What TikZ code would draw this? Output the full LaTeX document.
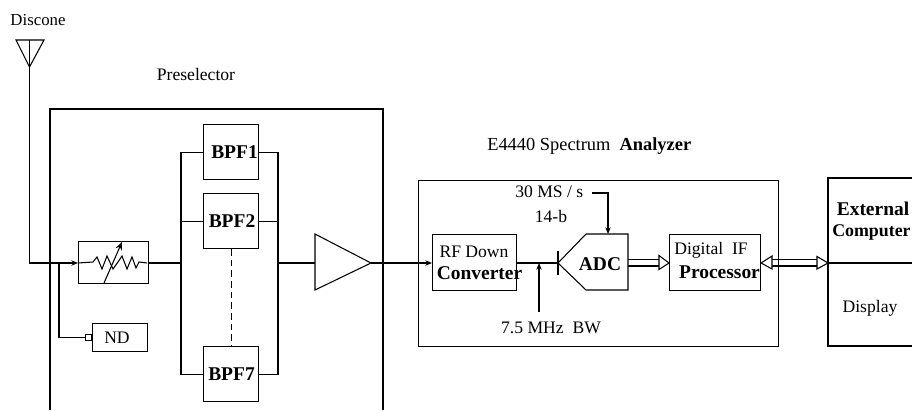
\documentclass[tikz,border=0pt]{standalone}
\usepackage{fontspec}
\setmainfont{Liberation Serif}
\usetikzlibrary{arrows.meta,calc}
\tikzset{
  px/.style={x=0.75pt,y=-0.75pt},
  line/.style={draw=black,line width=0.8pt},
  box/.style={draw=black,line width=0.8pt,inner sep=0pt,rectangle,anchor=north west},
  lab/.style={font=\fontsize{13.2pt}{15pt}\selectfont,inner sep=0pt,align=center},
  blab/.style={font=\fontsize{14.6pt}{16pt}\selectfont\bfseries,inner sep=0pt,align=center},
  arrowed/.style={line,-{Stealth[length=5pt,width=4pt]}},
  hollow/.style={draw=black,line width=0.8pt,fill=white,line join=miter}
}
\begin{document}
\begin{tikzpicture}[px]
\useasboundingbox (0,0) rectangle (912,410);
\begin{scope}
\clip (0,0) rectangle (912,410);
% outer boxes
\draw[line] (50,410) -- (50,109) -- (383,109) -- (383,410);
\node[box,minimum width=270pt,minimum height=124.5pt] (analyzer) at (418,180) {};
\draw[line] (912,178) -- (828,178) coordinate (extA) -- (828,346) -- (912,346);
\coordinate (extM) at (828,263);
\draw[line] (extM) -- (912,263);
% antenna
\coordinate (antL) at (16,40);
\coordinate (antR) at (44,40);
\coordinate (antB) at (29.5,67);
\coordinate (antT) at (29.5,40);
\draw[line,line join=miter] (antL) -- (antR) -- (antB) -- cycle;
\draw[line] (antT) -- (antB);
% attenuator
\node[box,minimum width=52.5pt,minimum height=31.5pt] (att) at (78,241) {};
\coordinate (resL) at (78,263);
\coordinate (resR) at (147,263);
\draw[line] (resL) -- (93,262) -- (97,257) -- (102,269) -- (107,256) -- (113,269) -- (118,262) -- (122,256) -- (127,269) -- (132,257) -- (136,268) -- (139,262) -- (resR);
\draw[line,-{Stealth[length=6pt,width=5pt]}] (104,283) -- (122,242);
% ND
\node[box,minimum width=41.25pt,minimum height=21pt] (nd) at (92,323) {};
\node[lab] at (117,338) {ND};
\node[box,fill=white,minimum width=4.5pt,minimum height=4.5pt,anchor=east] (ndport) at (nd.west) {};
\coordinate (tap) at (59,263);
\draw[arrowed] (antB) -- (antB |- resL) -- (resL);
\draw[line] (tap) |- (ndport.west);
% BPF
\node[box,minimum width=41.25pt,minimum height=41.25pt] (bpfa) at (203,124) {};
\node[box,minimum width=41.25pt,minimum height=41.25pt] (bpfb) at (203,193) {};
\node[box,minimum width=41.25pt,minimum height=41.25pt] (bpfc) at (203,346) {};
\node[blab] at (234.5,152) {BPF1};
\node[blab] at (232,221) {BPF2};
\node[blab] at (231.5,374) {BPF7};
\coordinate (busL) at (181,263);
\coordinate (busR) at (278,263);
\draw[line] (bpfa.west) -| (busL) ;
\draw[line] (bpfc.west) -| (busL);
\draw[line] (bpfb.west) -- (bpfb.west -| busL);
\draw[line] (bpfa.east) -| (busR);
\draw[line] (bpfc.east) -| (busR);
\draw[line] (bpfb.east) -- (bpfb.east -| busR);
\draw[line,dashed,dash pattern=on 5pt off 3pt] (bpfb.south) -- (bpfc.north);
\draw[line] (att.east |- resR) -- (busL);
% amp
\coordinate (ampA) at (315,234);
\coordinate (ampB) at (315,290);
\coordinate (ampC) at (371,263);
\draw[line,line join=miter] (ampA) -- (ampB) -- (ampC) -- cycle;
\draw[line] (busR) -- (ampA |- busR);
% RF
\node[box,minimum width=63pt,minimum height=42pt] (rf) at (432,234) {};
\node[lab] at (474,252) {RF Down};
\node[blab] at (479.5,273) {Converter};
\draw[arrowed] (ampC) -- (rf.west |- ampC);
% ADC
\coordinate (adcIn) at (558,263);
\coordinate (adcTL) at (586,234);
\coordinate (adcTR) at (628,234);
\coordinate (adcBR) at (628,290);
\coordinate (adcBL) at (586,290);
\draw[line,line join=miter] (adcIn) -- (adcTL) -- (adcTR) -- (adcBR) -- (adcBL) -- cycle;
\draw[line] (558,251) -- (558,275);
\node[blab] at (600,264) {ADC};
\draw[line] (rf.east |- adcIn) -- (adcIn);
% annotations
\node[lab,anchor=west] (ms) at (515,192) {30 MS / s};
\node[lab] (bits) at (551,216) {14-b};
\node[lab] (bw) at (551,328) {7.5 MHz\ \ BW};
\draw[arrowed] (592,193) -- (608,193) -- (608,234);
\draw[arrowed] (539,312) -- (539,263);
% digital IF
\node[box,minimum width=68.25pt,minimum height=42pt] (dig) at (669,234) {};
\node[lab] at (711,250) {Digital\ \ IF};
\node[blab] at (719.5,272) {Processor};
% wide arrows
\coordinate (w1) at (628,263);
\draw[line] (w1 |- 0,259.5) -- (659,259.5);
\draw[line] (w1 |- 0,266) -- (659,266);
\draw[hollow] (659,255.5) -- (659,269.5) -- (dig.west |- w1) -- cycle;
\draw[line] (772,259.5) -- (817,259.5);
\draw[line] (772,266) -- (817,266);
\draw[hollow] (dig.east |- extM) -- (772,256) -- (772,269) -- cycle;
\draw[hollow] (817,256.5) -- (817,269) -- (extM) -- cycle;
% labels
\node[lab,font=\fontsize{12.6pt}{14pt}\selectfont] (discone) at (38,20) {Discone};
\node[lab] (pres) at (196,74) {Preselector};
\node[lab,anchor=west,font=\fontsize{13.8pt}{15pt}\selectfont] (title) at (487,146) {E4440 Spectrum\ \ \textbf{Analyzer}};
\node[blab] at (873,209) {External};
\node[blab,anchor=west,font=\fontsize{13.4pt}{15pt}\selectfont\bfseries] at (832,232) {Computer};
\node[lab] at (870,308) {Display};
\end{scope}
\end{tikzpicture}
\end{document}
